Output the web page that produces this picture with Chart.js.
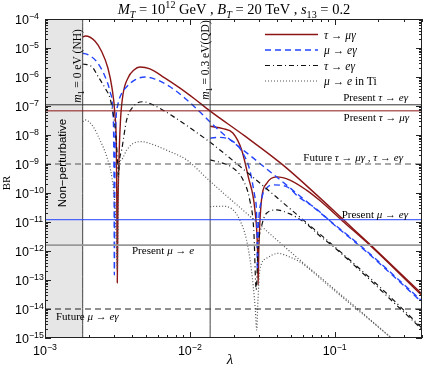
<!DOCTYPE html>
<html>
<head>
<meta charset="utf-8">
<script src="https://cdn.jsdelivr.net/npm/chart.js@4"></script>
<style>
  html, body { margin: 0; padding: 0; background: #fff; }
</style>
</head>
<body>
<canvas id="chart" width="425" height="366"></canvas>
<script>
// axis ranges
const lambdaRange = [1e-3, 0.4];
const brRange = [1e-15, 1e-4];
const xTickPowers = [-3, -2, -1];
const yTickPowers = [-15, -14, -13, -12, -11, -10, -9, -8, -7, -6, -5, -4];

// m1 marker positions and the non-perturbative edge
const m1Lambda = [1.82e-3, 0.0138];

// experimental bounds (horizontal lines)
const boundNames = ["Present tau->e gamma", "Present tau->mu gamma", "Future tau", "Present mu->e gamma", "Present mu->e", "Future mu->e gamma"];
const boundValues = [1.1e-7, 6.8e-8, 1e-9, 1.2e-11, 1.6e-12, 1e-14];

// tau -> mu gamma
const tauMuNH_l = [1.82e-3, 1.9e-3, 2.21e-3, 2.47e-3, 2.72e-3, 2.9e-3, 3.04e-3, 3.11e-3, 3.13e-3, 3.155e-3, 3.18e-3, 3.24e-3, 3.32e-3, 3.45e-3, 3.74e-3, 4.11e-3, 4.52e-3, 5.3e-3, 6.7e-3, 8.5e-3, 0.0108, 0.01374, 0.0239, 0.0438, 0.0789, 0.1135, 0.18, 0.4];
const tauMuNH_br = [2.4e-5, 2.6e-5, 1.75e-5, 7.3e-6, 2.0e-6, 4.2e-7, 4.9e-8, 3.0e-9, 5.7e-11, 8e-14, 1.2e-11, 1.4e-9, 3.3e-8, 2.4e-7, 9.3e-7, 1.74e-6, 2.2e-6, 1.9e-6, 9.3e-7, 4.2e-7, 1.74e-7, 6.8e-8, 9.3e-9, 9.3e-10, 6.8e-11, 1.26e-11, 1.48e-12, 3.3e-14];
const tauMuQD_l = [0.0138, 0.0169, 0.0198, 0.0228, 0.0253, 0.0281, 0.0293, 0.0296, 0.0299, 0.0312, 0.0338, 0.0396, 0.049, 0.0638, 0.0789, 0.1135, 0.18, 0.4];
const tauMuQD_br = [2.0e-8, 1.65e-8, 1.17e-8, 3.0e-9, 3.6e-10, 2.6e-11, 1.07e-12, 6.8e-14, 1.07e-12, 5.7e-11, 2.1e-10, 3.6e-10, 2.8e-10, 1.26e-10, 5.5e-11, 1.07e-11, 1.38e-12, 2.9e-14];

// mu -> e gamma
const muEgNH_l = [1.82e-3, 1.99e-3, 2.27e-3, 2.6e-3, 2.81e-3, 2.93e-3, 2.98e-3, 3.0e-3, 3.01e-3, 3.04e-3, 3.09e-3, 3.18e-3, 3.34e-3, 3.68e-3, 4.18e-3, 4.9e-3, 5.74e-3, 7.3e-3, 9.2e-3, 0.0117, 0.0141, 0.0179, 0.0259, 0.0574, 0.0948, 0.157, 0.4];
const muEgNH_br = [6.6e-6, 5.8e-6, 3.4e-6, 1.02e-6, 3.1e-7, 8.3e-8, 6.8e-9, 5.7e-11, 1.5e-13, 1.4e-9, 3.3e-8, 1.07e-7, 2.4e-7, 4.7e-7, 8e-7, 1.0e-6, 8.5e-7, 4.6e-7, 1.9e-7, 6.3e-8, 2.5e-8, 8.7e-9, 2.0e-9, 7.9e-11, 1.0e-11, 1.27e-12, 1.9e-14];
const muEgQD_l = [0.0138, 0.0161, 0.0199, 0.0233, 0.0259, 0.0281, 0.0291, 0.0292, 0.0296, 0.0312, 0.0338, 0.0375, 0.0464, 0.0574, 0.0748, 0.0948, 0.157, 0.4];
const muEgQD_br = [7.8e-9, 8.3e-9, 5.9e-9, 2.3e-9, 6.2e-10, 7.4e-11, 4.1e-12, 2.2e-13, 4.2e-12, 5.7e-11, 1.45e-10, 1.9e-10, 1.66e-10, 6.8e-11, 2.8e-11, 9.6e-12, 1.18e-12, 1.7e-14];

// tau -> e gamma
const tauEgNH_l = [1.82e-3, 2.1e-3, 2.33e-3, 2.6e-3, 2.81e-3, 2.94e-3, 3.06e-3, 3.15e-3, 3.21e-3, 3.27e-3, 3.38e-3, 3.66e-3, 4.06e-3, 4.76e-3, 5.6e-3, 7.7e-3, 0.01054, 0.01374, 0.0179, 0.0304, 0.0574, 0.0968, 0.204, 0.4];
const tauEgNH_br = [2.8e-6, 2.3e-6, 1.02e-6, 4.1e-7, 1.85e-7, 6.2e-8, 1.48e-8, 2.0e-9, 3.6e-10, 1.4e-9, 3.0e-9, 3.3e-8, 9.5e-8, 1.4e-7, 1.08e-7, 4.3e-8, 1.48e-8, 5.7e-9, 2.0e-9, 2.2e-10, 1.48e-11, 1.6e-12, 5.8e-14, 2.2e-15];
const tauEgQD_l = [0.0138, 0.017, 0.0199, 0.0233, 0.0259, 0.0276, 0.0287, 0.0295, 0.0314, 0.0338, 0.0396, 0.049, 0.0638, 0.0789, 0.0968, 0.4];
const tauEgQD_br = [1.38e-9, 1.05e-9, 7.2e-10, 2.8e-10, 5.7e-11, 5.3e-12, 4.6e-14, 1.07e-12, 7.9e-12, 2.0e-11, 2.6e-11, 1.9e-11, 8.6e-12, 3.3e-12, 1.48e-12, 2.0e-15];

// mu -> e in Ti
const muETiNH_l = [1.82e-3, 1.89e-3, 2.15e-3, 2.39e-3, 2.67e-3, 2.89e-3, 3.04e-3, 3.12e-3, 3.15e-3, 3.18e-3, 3.21e-3, 3.38e-3, 3.66e-3, 4.06e-3, 4.65e-3, 5.3e-3, 6.9e-3, 9.5e-3, 0.01303, 0.017, 0.0221, 0.0574, 0.0973, 0.166, 0.246];
const muETiNH_br = [2.9e-8, 3.3e-8, 1.95e-8, 6.8e-9, 1.78e-9, 3.6e-10, 3.4e-11, 1.4e-12, 2.2e-13, 1.5e-12, 3.6e-10, 1.4e-9, 3.0e-9, 5.1e-9, 5.9e-9, 5.1e-9, 3.0e-9, 1.38e-9, 3.3e-10, 1.0e-10, 3.2e-11, 4.9e-13, 5.3e-14, 5.5e-15, 1e-15];
const muETiQD_l = [0.0138, 0.017, 0.0199, 0.0221, 0.0246, 0.0266, 0.0283, 0.0289, 0.0295, 0.0304, 0.0338, 0.0406, 0.049, 0.0574, 0.0973, 0.246];
const muETiQD_br = [3.4e-11, 3.5e-11, 2.6e-11, 1.17e-11, 2.4e-12, 2.2e-13, 9.3e-15, 1.9e-15, 2.0e-14, 2.2e-13, 5.6e-13, 8.3e-13, 6.2e-13, 4.2e-13, 4.7e-14, 1e-15];

const RED = "#8c1515";
const BLUE = "#2343ff";
const BLACK = "#111111";
const GREY = "#555555";
const SERIF = '"Liberation Serif", "DejaVu Serif", serif';
const SANS = '"Liberation Sans", Arial, sans-serif';

function pairs(xs, ys) {
  return xs.map((x, i) => ({ x: x, y: ys[i] }));
}

function curve(xs, ys, color, width, dash) {
  return {
    data: pairs(xs, ys),
    borderColor: color,
    borderWidth: width,
    borderDash: dash,
    showLine: true,
    pointRadius: 0,
    fill: false,
    cubicInterpolationMode: "monotone",
    clip: 0,
  };
}

function hline(v, color, width, dash) {
  return curve(lambdaRange, [v, v], color, width, dash);
}

function vline(l) {
  return curve([l, l], brRange, "#444444", 1, []);
}

const boundStyles = [
  ["#333333", 1, []],
  [RED, 1, []],
  ["#555555", 1, [6, 4]],
  [BLUE, 1, []],
  ["#999999", 1.6, []],
  ["#222222", 1, [6, 4]],
];

const datasets = [];
boundValues.forEach((v, i) => datasets.push(hline(v, ...boundStyles[i])));
m1Lambda.forEach((l) => datasets.push(vline(l)));
datasets.push(curve(muETiQD_l, muETiQD_br, GREY, 1.2, [1, 2]));
datasets.push(curve(muETiNH_l, muETiNH_br, GREY, 1.2, [1, 2]));
datasets.push(curve(tauEgQD_l, tauEgQD_br, BLACK, 1.2, [5, 3, 1, 3]));
datasets.push(curve(tauEgNH_l, tauEgNH_br, BLACK, 1.2, [5, 3, 1, 3]));
datasets.push(curve(muEgQD_l, muEgQD_br, BLUE, 1.4, [6, 4]));
datasets.push(curve(muEgNH_l, muEgNH_br, BLUE, 1.4, [6, 4]));
datasets.push(curve(tauMuQD_l, tauMuQD_br, RED, 1.4, []));
datasets.push(curve(tauMuNH_l, tauMuNH_br, RED, 1.4, []));

// text with italic / sub / sup pieces: [text, flags] flags: i italic, b sub, p sup
function pieceFont(flags, size, fam) {
  const s = /[bp]/.test(flags) ? size * 0.7 : size;
  return (flags.includes("i") ? "italic " : "") + s.toFixed(1) + "px " + fam;
}

function richWidth(ctx, parts, size, fam) {
  let w = 0;
  for (const [t, f] of parts) {
    ctx.font = pieceFont(f, size, fam);
    w += ctx.measureText(t).width;
  }
  return w;
}

function drawRich(ctx, x, y, parts, size, align, fam) {
  fam = fam || SERIF;
  const w = richWidth(ctx, parts, size, fam);
  let cx = align === "right" ? x - w : align === "center" ? x - w / 2 : x;
  ctx.textAlign = "left";
  ctx.textBaseline = "alphabetic";
  for (const [t, f] of parts) {
    ctx.font = pieceFont(f, size, fam);
    const dy = f.includes("b") ? size * 0.3 : f.includes("p") ? -size * 0.42 : 0;
    ctx.fillText(t, cx, y + dy);
    cx += ctx.measureText(t).width;
  }
}

function drawRotated(ctx, x, y, parts, size, fam) {
  ctx.save();
  ctx.translate(x, y);
  ctx.rotate(-Math.PI / 2);
  drawRich(ctx, 0, 0, parts, size, "center", fam);
  ctx.restore();
}

const shadePlugin = {
  id: "shade",
  beforeDatasetsDraw(chart) {
    const { ctx, chartArea, scales } = chart;
    const x1 = scales.x.getPixelForValue(m1Lambda[0]);
    ctx.save();
    ctx.fillStyle = "#e6e6e6";
    ctx.fillRect(chartArea.left, chartArea.top, x1 - chartArea.left, chartArea.bottom - chartArea.top);
    ctx.restore();
  },
};

const framePlugin = {
  id: "frame",
  afterDatasetsDraw(chart) {
    const { ctx, chartArea: a, scales } = chart;
    const xs = scales.x, ys = scales.y;
    ctx.save();
    ctx.strokeStyle = "#222";
    ctx.lineWidth = 1;
    ctx.strokeRect(a.left + 0.5, a.top + 0.5, a.right - a.left - 1, a.bottom - a.top - 1);

    ctx.beginPath();
    // x ticks
    for (let p = -3; p <= 0; p++) {
      for (let m = 1; m <= 9; m++) {
        const v = m * Math.pow(10, p);
        if (v < lambdaRange[0] || v > lambdaRange[1]) continue;
        const px = Math.round(xs.getPixelForValue(v)) + 0.5;
        const len = m === 1 ? 6 : 3;
        ctx.moveTo(px, a.bottom); ctx.lineTo(px, a.bottom - len);
        ctx.moveTo(px, a.top); ctx.lineTo(px, a.top + len);
      }
    }
    // y ticks
    for (let p = -15; p <= -4; p++) {
      for (let m = 1; m <= 9; m++) {
        const v = m * Math.pow(10, p);
        if (v < brRange[0] * 0.999 || v > brRange[1] * 1.001) continue;
        const py = Math.round(ys.getPixelForValue(v)) + 0.5;
        const len = m === 1 ? 6 : 3;
        ctx.moveTo(a.left, py); ctx.lineTo(a.left + len, py);
        ctx.moveTo(a.right, py); ctx.lineTo(a.right - len, py);
      }
    }
    ctx.stroke();

    ctx.fillStyle = "#000";
    // tick labels
    xTickPowers.forEach((p) => {
      drawRich(ctx, xs.getPixelForValue(Math.pow(10, p)), 355, [["10", ""], ["\u2212" + (-p), "p"]], 12.5, "center", SANS);
    });
    yTickPowers.forEach((p) => {
      drawRich(ctx, 15, ys.getPixelForValue(Math.pow(10, p)) + 5, [["10", ""], ["\u2212" + (-p), "p"]], 12.5, "left", SANS);
    });

    // title
    drawRich(ctx, 234, 14, [["M", "i"], ["T", "ib"], [" = 10", ""], ["12", "p"], [" GeV , ", ""], ["B", "i"], ["T", "ib"], [" = 20 TeV , ", ""], ["s", "i"], ["13", "b"], [" = 0.2", ""]], 14.5, "center");
    // axis titles
    drawRich(ctx, 230, 364, [["\u03bb", "i"]], 15, "center");
    drawRotated(ctx, 10, 183, [["BR", ""]], 11);

    // markers text
    drawRotated(ctx, 80.5, 66, [["m", "i"], ["1", "b"], [" = 0 eV (NH)", ""]], 11.5);
    drawRotated(ctx, 208.5, 60, [["m", "i"], ["1", "b"], [" = 0.3 eV(QD)", ""]], 11.5);
    drawRotated(ctx, 65.5, 163, [["Non\u2212perturbative", ""]], 11.5, SANS);

    // bound labels
    const fs = 11;
    drawRich(ctx, 408, 101, [["Present ", ""], ["\u03c4", "i"], [" \u2192 ", ""], ["e\u03b3", "i"]], fs, "right");
    drawRich(ctx, 409, 121, [["Present ", ""], ["\u03c4", "i"], [" \u2192 ", ""], ["\u03bc\u03b3", "i"]], fs, "right");
    drawRich(ctx, 403, 161, [["Future ", ""], ["\u03c4", "i"], [" \u2192 ", ""], ["\u03bc\u03b3", "i"], [" , ", ""], ["\u03c4", "i"], [" \u2192 ", ""], ["e\u03b3", "i"]], fs, "right");
    drawRich(ctx, 408, 218, [["Present ", ""], ["\u03bc", "i"], [" \u2192 ", ""], ["e\u03b3", "i"]], fs, "right");
    drawRich(ctx, 132, 254, [["Present ", ""], ["\u03bc", "i"], [" \u2192 ", ""], ["e", "i"]], fs, "left");
    drawRich(ctx, 56, 320, [["Future ", ""], ["\u03bc", "i"], [" \u2192 ", ""], ["e\u03b3", "i"]], fs, "left");

    // legend
    const legend = [
      [RED, 1.4, [], [["\u03c4", "i"], [" \u2192 ", ""], ["\u03bc\u03b3", "i"]]],
      [BLUE, 1.4, [6, 4], [["\u03bc", "i"], [" \u2192 ", ""], ["e\u03b3", "i"]]],
      [BLACK, 1.2, [5, 3, 1, 3], [["\u03c4", "i"], [" \u2192 ", ""], ["e\u03b3", "i"]]],
      [GREY, 1.2, [1, 2], [["\u03bc", "i"], [" \u2192 ", ""], ["e", "i"], [" in Ti", ""]]],
    ];
    const ly = [34.5, 50, 65.5, 81];
    legend.forEach(([c, w, d, parts], i) => {
      ctx.beginPath();
      ctx.strokeStyle = c;
      ctx.lineWidth = w;
      ctx.setLineDash(d);
      ctx.moveTo(265, ly[i]);
      ctx.lineTo(318, ly[i]);
      ctx.stroke();
      ctx.setLineDash([]);
      drawRich(ctx, 324, ly[i] + 4, parts, 11.5, "left");
    });
    ctx.restore();
  },
};

new Chart(document.getElementById("chart").getContext("2d"), {
  type: "scatter",
  data: { datasets: datasets },
  options: {
    responsive: false,
    animation: false,
    devicePixelRatio: 1,
    layout: { padding: { left: 45, right: 3, top: 19, bottom: 28 } },
    plugins: { legend: { display: false }, tooltip: { enabled: false } },
    scales: {
      x: { type: "logarithmic", min: lambdaRange[0], max: lambdaRange[1], display: false },
      y: { type: "logarithmic", min: brRange[0], max: brRange[1], display: false },
    },
  },
  plugins: [shadePlugin, framePlugin],
});
</script>
</body>
</html>
